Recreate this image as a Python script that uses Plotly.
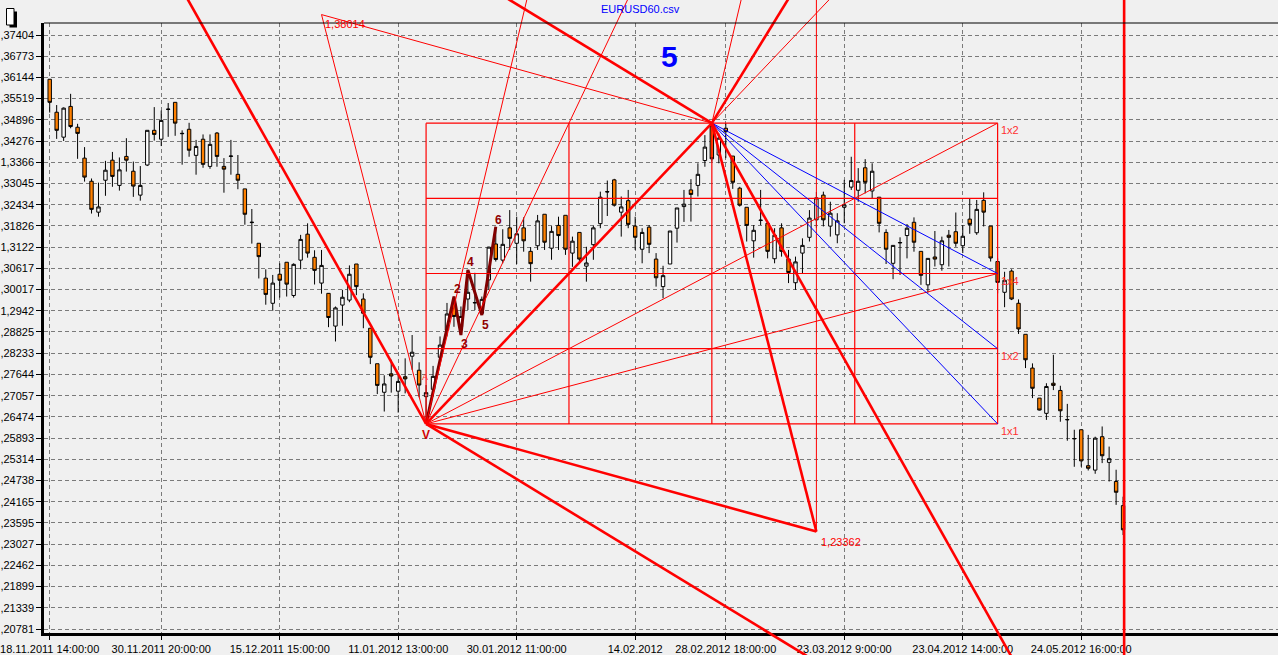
import math
import plotly.graph_objects as go

# ---------------- data ----------------
opens = [1.3609, 1.3512, 1.3439, 1.3529, 1.3468, 1.3378, 1.3311, 1.3222, 1.3314, 1.3372,
         1.3299, 1.3383, 1.3340, 1.3271, 1.3358, 1.3459, 1.3433, 1.3520, 1.3541, 1.3449,
         1.3462, 1.3386, 1.3433, 1.3354, 1.3451, 1.3354, 1.3383, 1.3331, 1.3289, 1.3192,
         1.3133, 1.3034, 1.2963, 1.3045, 1.3079, 1.2985, 1.3085, 1.3159, 1.3093, 1.3020,
         1.2991, 1.2899, 1.2958, 1.2972, 1.3074, 1.2975, 1.2893, 1.2794, 1.2715, 1.2766,
         1.2718, 1.2758, 1.2815, 1.2776, 1.2703, 1.2723, 1.2812, 1.2888, 1.2963, 1.2897,
         1.2975, 1.2964, 1.2935, 1.3029, 1.3131, 1.3085, 1.3177, 1.3133, 1.3177, 1.3110,
         1.3126, 1.3216, 1.3119, 1.3184, 1.3213, 1.3105, 1.3164, 1.3068, 1.3129, 1.3189,
         1.3280, 1.3315, 1.3222, 1.3255, 1.3182, 1.3116, 1.3179, 1.3088, 1.3010, 1.3074,
         1.3176, 1.3238, 1.3286, 1.3299, 1.3371, 1.3470, 1.3387, 1.3465, 1.3384, 1.3291,
         1.3236, 1.3140, 1.3198, 1.3190, 1.3089, 1.3177, 1.3088, 1.3021, 1.3105, 1.3150,
         1.3200, 1.3271, 1.3182, 1.3157, 1.3236, 1.3294, 1.3285, 1.3350, 1.3283, 1.3265,
         1.3164, 1.3076, 1.3134, 1.3155, 1.3193, 1.3110, 1.3015, 1.3094, 1.3072, 1.3156,
         1.3166, 1.3126, 1.3202, 1.3163, 1.3256, 1.3182, 1.3081, 1.2994, 1.3054, 1.2963,
         1.2876, 1.2782, 1.2699, 1.2657, 1.2740, 1.2720, 1.2639, 1.2587, 1.2612, 1.2514,
         1.2502, 1.2593, 1.2523, 1.2471, 1.2406]
highs = [1.3609, 1.3533, 1.3526, 1.3566, 1.3478, 1.3410, 1.3319, 1.3307, 1.3370, 1.3396,
         1.3380, 1.3436, 1.3368, 1.3355, 1.3459, 1.3527, 1.3517, 1.3539, 1.3541, 1.3459,
         1.3481, 1.3431, 1.3447, 1.3447, 1.3454, 1.3378, 1.3431, 1.3387, 1.3289, 1.3231,
         1.3133, 1.3059, 1.3043, 1.3076, 1.3079, 1.3076, 1.3157, 1.3190, 1.3113, 1.3114,
         1.2992, 1.2954, 1.3001, 1.3070, 1.3074, 1.2991, 1.2893, 1.2794, 1.2762, 1.2805,
         1.2762, 1.2809, 1.2874, 1.2798, 1.2735, 1.2788, 1.2870, 1.2964, 1.2982, 1.2954,
         1.3057, 1.3049, 1.2982, 1.3123, 1.3180, 1.3173, 1.3228, 1.3209, 1.3207, 1.3122,
         1.3214, 1.3216, 1.3182, 1.3209, 1.3213, 1.3152, 1.3164, 1.3123, 1.3183, 1.3281,
         1.3313, 1.3318, 1.3267, 1.3286, 1.3209, 1.3176, 1.3185, 1.3105, 1.3069, 1.3168,
         1.3234, 1.3286, 1.3317, 1.3363, 1.3445, 1.3480, 1.3450, 1.3480, 1.3384, 1.3295,
         1.3236, 1.3185, 1.3286, 1.3195, 1.3176, 1.3190, 1.3114, 1.3095, 1.3147, 1.3228,
         1.3280, 1.3281, 1.3252, 1.3219, 1.3315, 1.3382, 1.3349, 1.3375, 1.3363, 1.3265,
         1.3173, 1.3127, 1.3150, 1.3188, 1.3207, 1.3110, 1.3090, 1.3168, 1.3152, 1.3171,
         1.3221, 1.3185, 1.3260, 1.3257, 1.3279, 1.3182, 1.3090, 1.3052, 1.3059, 1.2974,
         1.2876, 1.2795, 1.2699, 1.2740, 1.2819, 1.2733, 1.2683, 1.2612, 1.2612, 1.2598,
         1.2593, 1.2621, 1.2566, 1.2503, 1.2430]
lows = [1.3511, 1.3434, 1.3428, 1.3465, 1.3376, 1.3310, 1.3218, 1.3209, 1.3269, 1.3295,
        1.3284, 1.3339, 1.3266, 1.3255, 1.3355, 1.3429, 1.3413, 1.3440, 1.3443, 1.3359,
        1.3382, 1.3330, 1.3350, 1.3347, 1.3353, 1.3278, 1.3330, 1.3288, 1.3186, 1.3132,
        1.3033, 1.2959, 1.2942, 1.2979, 1.2982, 1.2979, 1.3059, 1.3092, 1.3016, 1.2990,
        1.2896, 1.2856, 1.2900, 1.2966, 1.2986, 1.2893, 1.2793, 1.2710, 1.2662, 1.2714,
        1.2659, 1.2712, 1.2777, 1.2701, 1.2628, 1.2703, 1.2795, 1.2870, 1.2897, 1.2874,
        1.2944, 1.2944, 1.2930, 1.3001, 1.3081, 1.3076, 1.3114, 1.3074, 1.3109, 1.3024,
        1.3114, 1.3114, 1.3086, 1.3114, 1.3100, 1.3066, 1.3076, 1.3024, 1.3086, 1.3176,
        1.3211, 1.3238, 1.3152, 1.3176, 1.3114, 1.3076, 1.3105, 1.3010, 1.2977, 1.3074,
        1.3135, 1.3194, 1.3195, 1.3267, 1.3353, 1.3368, 1.3363, 1.3378, 1.3289, 1.3238,
        1.3138, 1.3092, 1.3185, 1.3090, 1.3076, 1.3095, 1.3020, 1.3001, 1.3048, 1.3138,
        1.3177, 1.3181, 1.3152, 1.3133, 1.3190, 1.3286, 1.3252, 1.3276, 1.3262, 1.3164,
        1.3074, 1.3031, 1.3043, 1.3090, 1.3109, 1.3015, 1.2993, 1.3067, 1.3055, 1.3067,
        1.3123, 1.3105, 1.3160, 1.3157, 1.3181, 1.3081, 1.2991, 1.2952, 1.2972, 1.2877,
        1.2782, 1.2699, 1.2665, 1.2639, 1.2721, 1.2634, 1.2582, 1.2511, 1.2511, 1.2501,
        1.2492, 1.2521, 1.2471, 1.2408, 1.2327]
closes = [1.3541, 1.3459, 1.3524, 1.3470, 1.3450, 1.3323, 1.3230, 1.3237, 1.3343, 1.3325,
          1.3344, 1.3372, 1.3297, 1.3299, 1.3459, 1.3447, 1.3488, 1.3521, 1.3480, 1.3450,
          1.3401, 1.3412, 1.3360, 1.3418, 1.3383, 1.3346, 1.3384, 1.3314, 1.3216, 1.3193,
          1.3095, 1.2988, 1.3020, 1.3028, 1.3017, 1.3073, 1.3144, 1.3105, 1.3056, 1.3070,
          1.2923, 1.2950, 1.2980, 1.3045, 1.3010, 1.2935, 1.2812, 1.2734, 1.2738, 1.2760,
          1.2745, 1.2752, 1.2826, 1.2735, 1.2714, 1.2759, 1.2846, 1.2933, 1.2926, 1.2926,
          1.2994, 1.2965, 1.2974, 1.3122, 1.3087, 1.3130, 1.3147, 1.3160, 1.3140, 1.3075,
          1.3197, 1.3136, 1.3167, 1.3155, 1.3116, 1.3139, 1.3088, 1.3077, 1.3177, 1.3265,
          1.3281, 1.3242, 1.3237, 1.3187, 1.3150, 1.3164, 1.3130, 1.3035, 1.3041, 1.3168,
          1.3234, 1.3245, 1.3273, 1.3331, 1.3410, 1.3376, 1.3436, 1.3455, 1.3308, 1.3242,
          1.3184, 1.3170, 1.3199, 1.3110, 1.3156, 1.3110, 1.3050, 1.3080, 1.3127, 1.3205,
          1.3263, 1.3200, 1.3219, 1.3197, 1.3243, 1.3313, 1.3311, 1.3308, 1.3340, 1.3190,
          1.3116, 1.3127, 1.3135, 1.3176, 1.3136, 1.3042, 1.3090, 1.3088, 1.3140, 1.3150,
          1.3133, 1.3153, 1.3187, 1.3230, 1.3222, 1.3091, 1.3022, 1.3028, 1.2975, 1.2891,
          1.2805, 1.2726, 1.2666, 1.2731, 1.2734, 1.2664, 1.2640, 1.2588, 1.2527, 1.2507,
          1.2589, 1.2541, 1.2533, 1.2442, 1.2341]
bar_index = list(range(len(opens)))

ytick_vals = [1.37404, 1.36773, 1.36144, 1.35519, 1.34896, 1.34276, 1.3366, 1.33045,
              1.32434, 1.31826, 1.3122, 1.30617, 1.30017, 1.2942, 1.28825, 1.28233,
              1.27644, 1.27057, 1.26474, 1.25893, 1.25314, 1.24738, 1.24165, 1.23595,
              1.23027, 1.22462, 1.21899, 1.21339, 1.20781]
# tick labels as they appear (the leading "1" of the long ones is cut by the window edge)
ytick_text = [",37404", ",36773", ",36144", ",35519", ",34896", ",34276", "1,3366",
              ",33045", ",32434", ",31826", "1,3122", ",30617", ",30017", "1,2942",
              ",28825", ",28233", ",27644", ",27057", ",26474", ",25893", ",25314",
              ",24738", ",24165", ",23595", ",23027", ",22462", ",21899", ",21339",
              ",20781"]
xtick_index = [0, 16, 33, 50, 67, 84, 97, 114, 131, 148]
xtick_text = ["18.11.2011 14:00:00", "30.11.2011 20:00:00", "15.12.2011 15:00:00",
              "11.01.2012 13:00:00", "30.01.2012 11:00:00", "14.02.2012",
              "28.02.2012 18:00:00", "23.03.2012 9:00:00", "23.04.2012 14:00:00",
              "24.05.2012 16:00:00"]

# analysis pivots (bar index, price)
v_point = (54, 1.2628)
peak_point = (95, 1.3480)
high_projection = (39, 1.38014)
low_projection = (110, 1.23362)
box_right_index = 136
trend_a_ref = (25.5, 1.3636)      # second point of the thick falling line into V
trend_d_ref = (76.1, 1.3717)      # second point of the thick line into the peak
peak_ray_ref = (104.7, 1.3805)    # second point of the thick ray up from the peak
cursor_index = 154.15

wave_index = [54, 58, 59, 60, 62, 64]
wave_price = [1.2628, 1.2982, 1.2874, 1.3057, 1.2930, 1.3180]
wave_text = ["V", "2", "3", "4", "5", "6"]
a_label_point = (54, 1.2757)

box_fractions = [0.25, 0.5, 0.75]

# ---------------- geometry helpers ----------------
W, H = 1278, 655
L_MARGIN = 44
PLOT_TOP_PX, PLOT_BOT_PX = 23, 633
LABEL_TOP_PX, LABEL_BOT_PX = 35, 629
BAR_PX = 6.97
FIRST_BAR_PX = 49.7

lg = math.log10
per_px = (lg(ytick_vals[0]) - lg(ytick_vals[-1])) / (LABEL_BOT_PX - LABEL_TOP_PX)


def lg_at(px):
    return lg(ytick_vals[0]) - (px - LABEL_TOP_PX) * per_px


main_yrange = [lg_at(PLOT_BOT_PX), lg_at(PLOT_TOP_PX)]
full_yrange = [lg_at(H), lg_at(0)]
x_start = (L_MARGIN - FIRST_BAR_PX) / BAR_PX
xrange = [x_start, x_start + (W - L_MARGIN) / BAR_PX]


def move(p, a, b, t):
    """p + t*(b-a) in (index, log price) space"""
    return (p[0] + t * (b[0] - a[0]), 10 ** (lg(p[1]) + t * (lg(b[1]) - lg(a[1]))))


def level(f):
    return 10 ** (lg(v_point[1]) + f * (lg(peak_point[1]) - lg(v_point[1])))


half_w = (box_right_index - v_point[0]) / 2.0
box_top_up = 10 ** (2 * lg(peak_point[1]) - lg(v_point[1]))

thick_red = [
    (v_point, move(v_point, v_point, trend_a_ref, 2.5)),
    (peak_point, move(peak_point, v_point, trend_a_ref, -2.5)),
    (peak_point, move(peak_point, peak_point, trend_d_ref, 3)),
    (v_point, move(v_point, peak_point, trend_d_ref, -3)),
    (peak_point, move(peak_point, peak_point, peak_ray_ref, 3)),
    (v_point, peak_point),
    (v_point, low_projection),
    (peak_point, low_projection),
    ((cursor_index, 10 ** full_yrange[0]), (cursor_index, 10 ** full_yrange[1])),
]

box_l, box_r = v_point[0], box_right_index
thin_red = [
    (high_projection, v_point),
    (high_projection, peak_point),
    (v_point, move(v_point, v_point, (box_l + half_w / 4, peak_point[1]), 3)),
    (v_point, move(v_point, v_point, (box_l + half_w / 2, peak_point[1]), 3)),
    (v_point, (box_r, peak_point[1])),
    (v_point, (box_r, level(0.5))),
    (peak_point, move(peak_point, peak_point, (peak_point[0] + half_w, box_top_up), 2)),
    (peak_point, move(peak_point, peak_point, (peak_point[0] + half_w / 4, box_top_up), 2)),
    ((low_projection[0], low_projection[1]), (low_projection[0], 10 ** full_yrange[1])),
]
box_lines = [
    ((box_l, v_point[1]), (box_r, v_point[1])),
    ((box_l, peak_point[1]), (box_r, peak_point[1])),
    ((box_l, v_point[1]), (box_l, peak_point[1])),
    ((box_r, v_point[1]), (box_r, peak_point[1])),
]
for f in box_fractions:
    box_lines.append(((box_l, level(f)), (box_r, level(f))))
    box_lines.append(((box_l + f * 2 * half_w, v_point[1]), (box_l + f * 2 * half_w, peak_point[1])))

blue = [
    (peak_point, (box_r, level(0.5))),
    (peak_point, (box_r, level(0.25))),
    (peak_point, (box_r, v_point[1])),
]

# ---------------- figure ----------------
fig = go.Figure()
fig.add_trace(go.Candlestick(
    x=bar_index, open=opens, high=highs, low=lows, close=closes,
    increasing=dict(fillcolor="white", line=dict(color="black", width=1)),
    decreasing=dict(fillcolor="#ff8000", line=dict(color="black", width=1)),
    whiskerwidth=0, hoverinfo="skip", xaxis="x", yaxis="y"))

fig.add_trace(go.Scatter(x=wave_index, y=wave_price, mode="lines",
                         line=dict(color="#800000", width=3), hoverinfo="skip",
                         xaxis="x", yaxis="y"))

for segs, color, width in [(box_lines, "#ff0000", 1.2), (thin_red, "#ff0000", 1),
                           (blue, "#0000ff", 1), (thick_red, "#ff0000", 2.6)]:
    for a, b in segs:
        fig.add_trace(go.Scatter(x=[a[0], b[0]], y=[a[1], b[1]], mode="lines",
                                 line=dict(color=color, width=width),
                                 hoverinfo="skip", xaxis="x2", yaxis="y2"))

FONT = "Arial, Liberation Sans, sans-serif"
ann = []
ann.append(dict(text="EURUSD60.csv", xref="paper", yref="paper",
                x=(640 - L_MARGIN) / (W - L_MARGIN), y=1 - 9 / H, showarrow=False,
                xanchor="center", yanchor="middle",
                font=dict(family=FONT, size=11, color="#0000ff")))
ann.append(dict(text="<b>5</b>", xref="paper", yref="paper",
                x=(669 - L_MARGIN) / (W - L_MARGIN), y=1 - 57 / H, showarrow=False,
                xanchor="center", yanchor="middle",
                font=dict(family=FONT, size=30, color="#0000ff")))
ann.append(dict(text="1,38014", x=high_projection[0], y=lg(high_projection[1]), xref="x2", yref="y2",
                xanchor="left", yanchor="middle", showarrow=False, xshift=1, yshift=-9,
                font=dict(family=FONT, size=11, color="#ff0000")))
ann.append(dict(text="1,23362", x=low_projection[0], y=lg(low_projection[1]), xref="x2", yref="y2",
                xanchor="left", yanchor="middle", showarrow=False, xshift=3, yshift=-10,
                font=dict(family=FONT, size=11, color="#ff0000")))
ann.append(dict(text="A", x=a_label_point[0], y=lg(a_label_point[1]), xref="x2", yref="y2",
                xanchor="center", yanchor="middle",
                showarrow=False, xshift=-1, font=dict(family=FONT, size=9, color="#ff3030")))
wave_shift = [(0, -11), (3.7, 8), (3.3, -8.5), (2.5, 8.5), (3.3, -10), (2.6, 7)]
for i, t in enumerate(wave_text):
    ann.append(dict(text="<b>%s</b>" % t, x=wave_index[i], y=lg(wave_price[i]), xref="x2", yref="y2",
                    xanchor="center", yanchor="middle",
                    showarrow=False, xshift=wave_shift[i][0], yshift=wave_shift[i][1],
                    font=dict(family=FONT, size=12, color="#900000" if t != "V" else "#d00000")))
for txt, price in [("1x2", peak_point[1]), ("1x4", level(0.5)), ("1x2", level(0.25)), ("1x1", v_point[1])]:
    ann.append(dict(text=txt, x=box_r, y=lg(price), xref="x2", yref="y2", xanchor="left",
                    yanchor="middle", showarrow=False, xshift=1, yshift=-7,
                    font=dict(family=FONT, size=11, color="#ff3030")))

shapes = [
    dict(type="line", xref="paper", yref="paper", x0=0, x1=1,
         y0=1 - PLOT_TOP_PX / H, y1=1 - PLOT_TOP_PX / H, line=dict(color="black", width=1)),
    # little icon in the corner
    dict(type="rect", xref="paper", yref="paper",
         x0=(9.5 - L_MARGIN) / (W - L_MARGIN), x1=(17 - L_MARGIN) / (W - L_MARGIN),
         y0=1 - 27.5 / H, y1=1 - 11.5 / H, fillcolor="black", line=dict(width=0)),
    dict(type="rect", xref="paper", yref="paper",
         x0=(6.5 - L_MARGIN) / (W - L_MARGIN), x1=(14 - L_MARGIN) / (W - L_MARGIN),
         y0=1 - 25 / H, y1=1 - 8.5 / H, fillcolor="white", line=dict(color="black", width=1)),
]

grid = dict(showgrid=True, gridcolor="#7a7a7a", gridwidth=1, griddash="4px,3px", zeroline=False)
hidden = dict(visible=False, showgrid=False, zeroline=False, showline=False, fixedrange=True)
fig.update_layout(
    width=W, height=H, margin=dict(l=L_MARGIN, r=0, t=0, b=0, pad=0, autoexpand=False),
    paper_bgcolor="#f0f0f0", plot_bgcolor="rgba(0,0,0,0)", showlegend=False,
    boxgap=0.3,
    xaxis=dict(domain=[0, 1], range=xrange, tickmode="array", tickvals=xtick_index,
               ticktext=xtick_text, showline=True, linecolor="black", linewidth=2.5,
               ticks="outside", ticklen=4, tickcolor="black", tickangle=0, automargin=False,
               tickfont=dict(family=FONT, size=11, color="black"),
               rangeslider=dict(visible=False), anchor="y", fixedrange=True, **grid),
    yaxis=dict(domain=[1 - PLOT_BOT_PX / H, 1 - PLOT_TOP_PX / H], type="log", range=main_yrange,
               tickmode="array", tickvals=ytick_vals, ticktext=ytick_text, automargin=False,
               showline=True, linecolor="black", linewidth=2.5, ticks="outside", ticklen=5,
               tickcolor="black", tickfont=dict(family=FONT, size=11, color="black"),
               anchor="x", fixedrange=True, **grid),
    xaxis2=dict(domain=[0, 1], range=xrange, anchor="y2", **hidden),
    yaxis2=dict(domain=[0, 1], type="log", range=full_yrange, anchor="x2", **hidden),
    annotations=ann, shapes=shapes,
)

fig.write_html("out.html", config=dict(displayModeBar=False),
               post_script="document.body.style.margin='0';document.body.style.overflow='hidden';")
